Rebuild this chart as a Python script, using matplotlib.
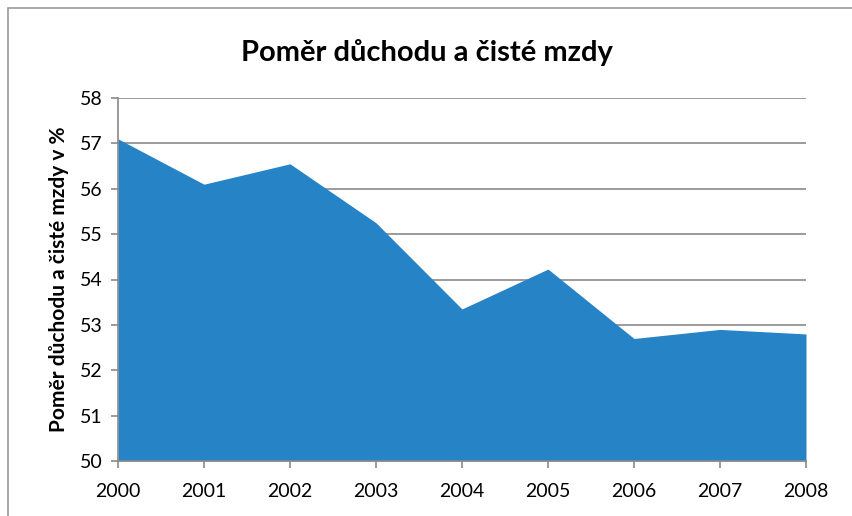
import matplotlib

matplotlib.use("Agg")
import matplotlib.pyplot as plt
from matplotlib.patches import Rectangle

years = [2000, 2001, 2002, 2003, 2004, 2005, 2006, 2007, 2008]
ratio = [57.1, 56.1, 56.55, 55.25, 53.35, 54.23, 52.7, 52.9, 52.8]
yticks = [50, 51, 52, 53, 54, 55, 56, 57, 58]

plt.rcParams["font.family"] = ["Lato", "DejaVu Sans"]

fig = plt.figure(figsize=(8.53, 5.16), dpi=100)
ax = fig.add_axes([118 / 853, 1 - 461 / 516, (806 - 118) / 853, (461 - 98) / 516])

# chart border like the spreadsheet frame
fig.patches.append(Rectangle((8 / 853, -0.1), 1.2, 1 - 8 / 516 + 0.1, transform=fig.transFigure,
                             fill=False, edgecolor="#9a9a9a", lw=1.2))

ax.fill_between(years, ratio, 50, color="#2683c6", lw=0, zorder=2)
ax.set_xlim(years[0], years[-1])
ax.set_ylim(50, 58)
ax.set_yticks(yticks)
ax.set_xticks(years)
ax.grid(axis="y", color="#8a8a8a", lw=1.2, zorder=1)
for s in ["top", "right"]:
    ax.spines[s].set_visible(False)
for s in ["left", "bottom"]:
    ax.spines[s].set_color("#8a8a8a")
    ax.spines[s].set_linewidth(1.2)
ax.tick_params(axis="both", color="#8a8a8a", length=5, width=1.2, labelsize=14, pad=6)
ax.tick_params(axis="x", pad=11)
ax.set_ylabel("Poměr důchodu a čisté mzdy v %", fontsize=15, fontweight="bold", labelpad=8)
fig.text(0.5, 1 - 52 / 516, "Poměr důchodu a čisté mzdy", ha="center", va="center",
         fontsize=21, fontweight="bold")

fig.savefig("out.png", dpi=100)
